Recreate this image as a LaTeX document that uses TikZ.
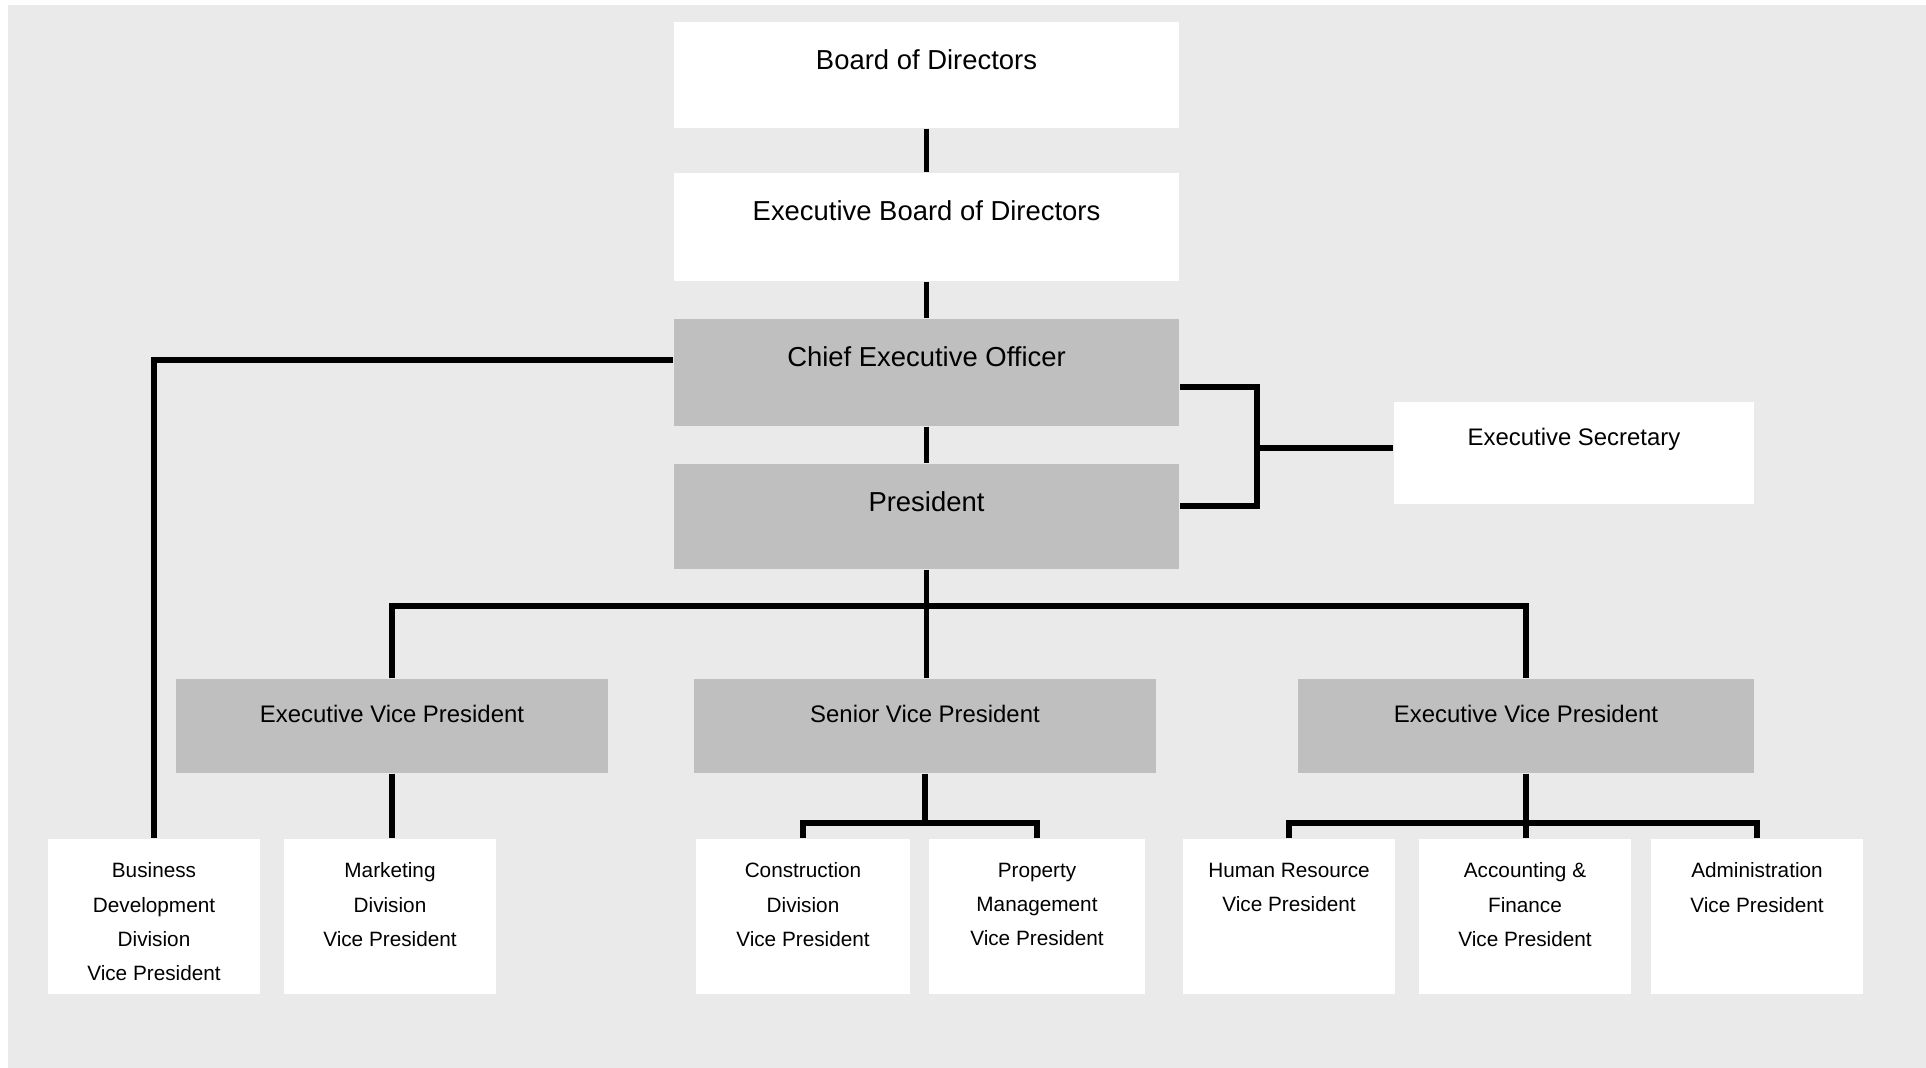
\documentclass[tikz,border=0pt]{standalone}
\usepackage{fontspec}
\setmainfont{Liberation Sans}
\usetikzlibrary{positioning}
\definecolor{bggray}{RGB}{234,234,234}
\definecolor{boxgray}{RGB}{191,191,191}
\tikzset{
	whitebox/.style = {rectangle, fill=white, inner sep=0pt},
	graybox/.style = {rectangle, fill=boxgray, inner sep=0pt},
	toptext/.style = {anchor=north, inner sep=0pt, align=center, yshift=-0.275cm,
		font=\fontsize{7.8}{9.4}\selectfont},
	midtext/.style = {anchor=north, inner sep=0pt, align=center, yshift=-0.26cm,
		font=\fontsize{6.8}{8.2}\selectfont},
	bottext/.style = {anchor=north, inner sep=0pt, align=center, yshift=-0.24cm,
		font=\fontsize{5.9}{9.7}\selectfont},
	link/.style = {draw, black, line width=1.6pt},
}

\begin{document}
\begin{tikzpicture}[
	x=0.01cm, y=-0.01cm,
	topbox/.style={minimum width=5.05cm},
	midbox/.style={minimum height=0.94cm},
	botbox/.style={whitebox, minimum height=1.55cm}
	]
	\useasboundingbox (0,0) rectangle (1926,1068);
	\fill[bggray] (8,5) rectangle (1926,1068);
	%Nodes
	\node[whitebox, topbox, minimum height=1.06cm, label={[toptext]north:Board of Directors}] (board) at (926.5,75) {};
	\node[whitebox, topbox, minimum height=1.08cm, label={[toptext]north:Executive Board of Directors}] (exboard) at (926.5,227) {};
	\node[graybox, topbox, minimum height=1.07cm, label={[toptext]north:Chief Executive Officer}] (ceo) at (926.5,372.5) {};
	\node[graybox, topbox, minimum height=1.05cm, label={[toptext]north:President}] (pres) at (926.5,516.5) {};
	\node[whitebox, minimum width=3.6cm, minimum height=1.02cm, label={[midtext]north:Executive Secretary}] (esec) at (1574,453) {};
	\node[graybox, midbox, minimum width=4.32cm, label={[midtext]north:Executive Vice President}] (evpl) at (392,726) {};
	\node[graybox, midbox, minimum width=4.62cm, label={[midtext]north:Senior Vice President}] (svp) at (925,726) {};
	\node[graybox, midbox, minimum width=4.56cm, label={[midtext]north:Executive Vice President}] (evpr) at (1526,726) {};
	\node[botbox, minimum width=2.12cm, label={[bottext]north:Business\\Development\\Division\\Vice President}] (biz) at (154,916.5) {};
	\node[botbox, minimum width=2.12cm, label={[bottext]north:Marketing\\Division\\Vice President}] (mkt) at (390,916.5) {};
	\node[botbox, minimum width=2.14cm, label={[bottext]north:Construction\\Division\\Vice President}] (con) at (803,916.5) {};
	\node[botbox, minimum width=2.16cm, label={[bottext]north:Property\\Management\\Vice President}] (prop) at (1037,916.5) {};
	\node[botbox, minimum width=2.12cm, label={[bottext]north:Human Resource\\Vice President}] (hr) at (1289,916.5) {};
	\node[botbox, minimum width=2.12cm, label={[bottext]north:Accounting \&\\Finance\\Vice President}] (acc) at (1525,916.5) {};
	\node[botbox, minimum width=2.12cm, label={[bottext]north:Administration\\Vice President}] (adm) at (1757,916.5) {};
	\coordinate (brk) at (1257,448);
	\coordinate (bus1) at (0,606);
	\coordinate (bus2) at (0,823);
	%Lines
	\draw[link] (board.south) -- (exboard.north);
	\draw[link] (exboard.south) -- (ceo.north);
	\draw[link] (ceo.south) -- (pres.north);
	\draw[link] ([yshift=0.125cm]ceo.west) -| (biz.north);
	\draw[link] ([yshift=-0.145cm]ceo.east) -| (brk) |- ([yshift=0.105cm]pres.east);
	\draw[link] (brk) -- (brk -| esec.west);
	\draw[link] (pres.south) -- (pres.south |- svp.north);
	\draw[link] (evpl.north) -- (evpl.north |- bus1) -- (evpr.north |- bus1) -- (evpr.north);
	\draw[link] (evpl.south) -- (evpl.south |- mkt.north);
	\draw[link] (svp.south) -- (svp.south |- bus2);
	\draw[link] (con.north) -- (con.north |- bus2) -- (prop.north |- bus2) -- (prop.north);
	\draw[link] (evpr.south) -- (evpr.south |- acc.north);
	\draw[link] (hr.north) -- (hr.north |- bus2) -- (adm.north |- bus2) -- (adm.north);
\end{tikzpicture}
\end{document}
